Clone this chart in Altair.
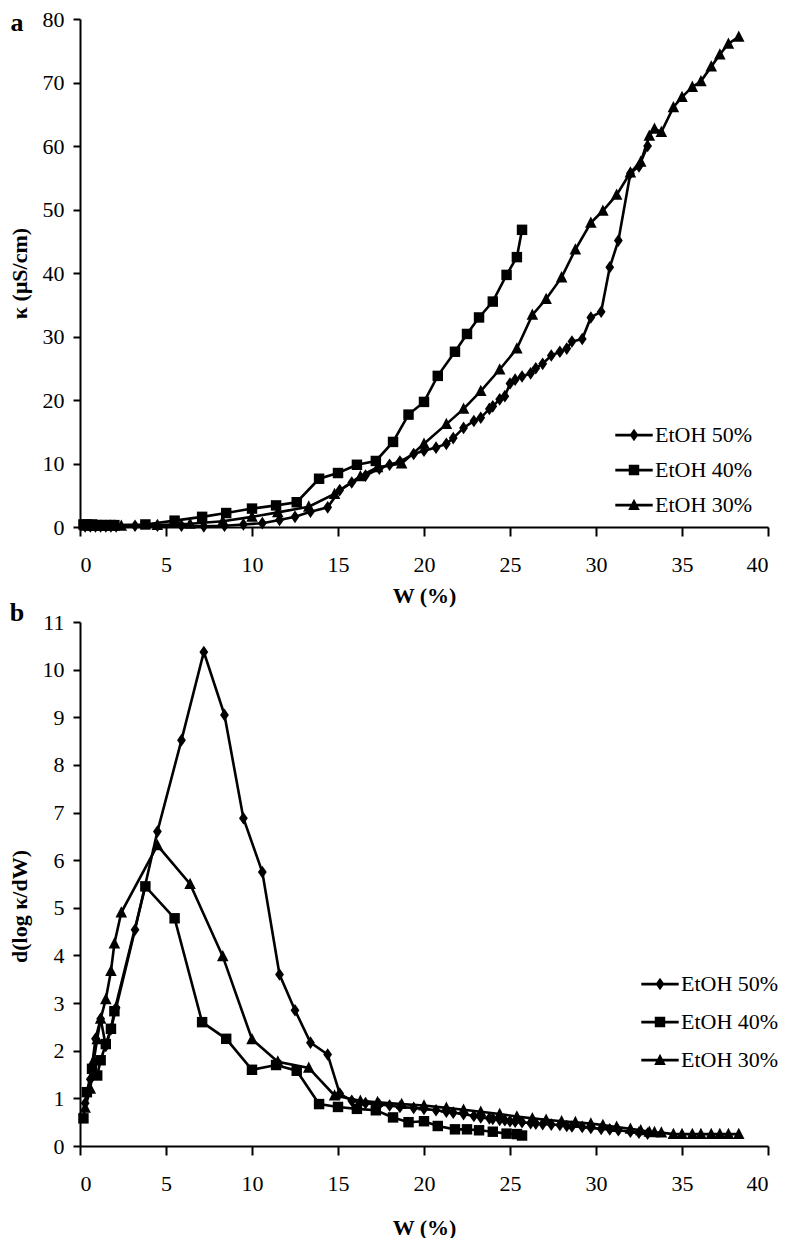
import altair as alt
import pandas as pd

SERIES = ["EtOH 50%", "EtOH 40%", "EtOH 30%"]

# ---- EtOH 50 % (diamonds) ----
W50 = [0.3, 0.6, 0.9, 1.2, 1.5, 1.8, 2.1, 3.2, 4.5, 5.9, 7.2, 8.4, 9.5, 10.6, 11.6, 12.5, 13.4, 14.4,
       15.1, 15.8, 16.6, 17.4, 18.0, 18.6, 19.4, 20.0, 20.7, 21.3, 21.7, 22.3, 22.9, 23.3, 23.8, 24.0,
       24.4, 24.7, 25.0, 25.3, 25.7, 26.2, 26.5, 26.9, 27.4, 27.9, 28.3, 28.6, 29.2, 29.7, 30.3, 30.8,
       31.3, 32.0, 32.5, 33.0]
K50_a = [0.1, 0.1, 0.1, 0.1, 0.1, 0.1, 0.1, 0.2, 0.2, 0.2, 0.1, 0.2, 0.4, 0.6, 1.1, 1.6, 2.4, 3.1,
         5.8, 7.0, 8.1, 9.2, 9.8, 10.3, 11.5, 12.0, 12.5, 13.1, 14.0, 15.6, 16.7, 17.2, 18.6, 19.0,
         20.1, 20.6, 22.6, 23.2, 23.7, 24.2, 25.0, 25.7, 27.0, 27.6, 28.1, 29.2, 29.6, 33.0, 33.9, 40.9,
         45.1, 55.7, 56.8, 60.0]
D50_b = [0.9, 1.4, 2.25, 2.67, 2.1, 2.45, 2.9, 4.54, 6.6, 8.52, 10.37, 9.05, 6.88, 5.75, 3.6, 2.85, 2.17, 1.92,
         1.1, 0.95, 0.9, 0.87, 0.85, 0.82, 0.8, 0.78, 0.75, 0.72, 0.7, 0.67, 0.63, 0.6, 0.58, 0.57,
         0.55, 0.54, 0.52, 0.51, 0.5, 0.48, 0.47, 0.46, 0.45, 0.44, 0.42, 0.41, 0.4, 0.38, 0.36, 0.35,
         0.33, 0.3, 0.28, 0.26]

# ---- EtOH 40 % (squares) ----
W40 = [0.2, 0.4, 0.7, 1.0, 1.2, 1.5, 1.8, 2.0, 3.8, 5.5, 7.1, 8.5, 10.0, 11.4, 12.6, 13.9, 15.0, 16.1,
       17.2, 18.2, 19.1, 20.0, 20.8, 21.8, 22.5, 23.2, 24.0, 24.8, 25.4, 25.7]
K40_a = [0.4, 0.4, 0.4, 0.3, 0.3, 0.3, 0.3, 0.3, 0.4, 1.0, 1.6, 2.2, 2.9, 3.4, 3.9, 7.6, 8.5, 9.8,
         10.4, 13.4, 17.7, 19.7, 23.8, 27.6, 30.4, 33.0, 35.5, 39.7, 42.5, 46.8]
D40_b = [0.58, 1.13, 1.62, 1.48, 1.8, 2.14, 2.46, 2.83, 5.45, 4.78, 2.6, 2.25, 1.6, 1.7, 1.58, 0.88, 0.82, 0.78,
         0.75, 0.6, 0.5, 0.52, 0.42, 0.35, 0.35, 0.33, 0.3, 0.26, 0.25, 0.22]

# ---- EtOH 30 % (triangles) ----
W30 = [0.3, 0.6, 0.8, 1.0, 1.2, 1.5, 1.8, 2.0, 2.4, 4.5, 6.4, 8.3, 10.0, 11.5, 13.3, 14.8, 16.3, 17.3,
       18.7, 20.0, 21.3, 22.3, 23.3, 24.4, 25.4, 26.3, 27.1, 28.0, 28.8, 29.7, 30.4, 31.2, 32.0, 32.6,
       33.1, 33.4, 33.8, 34.5, 35.0, 35.6, 36.1, 36.7, 37.2, 37.7, 38.3]
K30_a = [0.2, 0.2, 0.2, 0.2, 0.2, 0.2, 0.2, 0.2, 0.2, 0.3, 0.5, 0.9, 1.6, 2.3, 3.2, 5.2, 8.0, 9.4,
         10.0, 13.1, 16.2, 18.6, 21.4, 24.8, 28.1, 33.4, 35.9, 39.3, 43.7, 47.9, 49.8, 52.3, 55.8, 57.5,
         61.6, 62.7, 62.2, 66.1, 67.7, 69.3, 70.2, 72.5, 74.4, 76.1, 77.2]
D30_b = [0.8, 1.2, 1.8, 2.24, 2.67, 3.08, 3.67, 4.25, 4.9, 6.31, 5.5, 3.98, 2.24, 1.77, 1.64, 1.06, 0.95, 0.92,
         0.88, 0.85, 0.8, 0.76, 0.72, 0.67, 0.62, 0.58, 0.55, 0.52, 0.5, 0.47, 0.44, 0.4, 0.36, 0.33,
         0.3, 0.29, 0.28, 0.25, 0.25, 0.25, 0.25, 0.25, 0.25, 0.25, 0.25]

X_TICKS = [0, 5, 10, 15, 20, 25, 30, 35, 40]
YA_TICKS = [0, 10, 20, 30, 40, 50, 60, 70, 80]
YB_TICKS = [0, 1, 2, 3, 4, 5, 6, 7, 8, 9, 10, 11]


def frame(pairs):
    rows = []
    for name, W, V in pairs:
        for i, (w, v) in enumerate(zip(W, V)):
            rows.append({"series": name, "W": w, "v": v, "order": i})
    return pd.DataFrame(rows)


df_a = frame([(SERIES[0], W50, K50_a), (SERIES[1], W40, K40_a), (SERIES[2], W30, K30_a)])
df_b = frame([(SERIES[0], W50, D50_b), (SERIES[1], W40, D40_b), (SERIES[2], W30, D30_b)])

FONT = "Liberation Serif"
MARK_PATHS = [
    "M0,-1.15L0.8,0L0,1.15L-0.8,0Z",
    "M-0.95,-0.95H0.95V0.95H-0.95Z",
    "M0,-1.15L1.05,0.9H-1.05Z",
]
LEG_PATHS = ["M-3.4,-0.25H3.4V0.25H-3.4Z" + p for p in MARK_PATHS]


def panel(df, ytitle, ydom, yticks, letter, lx, ly, rowpad, height, xtitlepad, letter_y, ytitle_y):
    x = alt.X("W:Q", scale=alt.Scale(domain=[0, 40], nice=False, zero=False),
              axis=alt.Axis(values=X_TICKS, title="W (%)", titlePadding=xtitlepad, tickSize=9,
                            labelPadding=18))
    y = alt.Y("v:Q", scale=alt.Scale(domain=ydom, nice=False),
              axis=alt.Axis(values=yticks, title=ytitle, tickSize=7, titleY=ytitle_y))
    base = alt.Chart(df)
    lines = base.mark_line(color="black", strokeWidth=2.6).encode(
        x=x, y=y, detail="series:N", order="order:Q")
    pts = base.mark_point(filled=True, color="black", opacity=1, size=121, strokeWidth=0.5).encode(
        x=x, y=y,
        shape=alt.Shape("series:N", scale=alt.Scale(domain=SERIES, range=MARK_PATHS), legend=None))
    leg = base.transform_filter("datum.W < -1000").mark_point(
        filled=True, color="black", opacity=1, size=121, strokeWidth=0.5).encode(
        x=x, y=y,
        shape=alt.Shape("series:N", scale=alt.Scale(domain=SERIES, range=LEG_PATHS),
                        legend=alt.Legend(orient="none", legendX=lx, legendY=ly, title=None,
                                          padding=0, labelFont=FONT, labelFontSize=22,
                                          labelColor="black", symbolSize=121,
                                          symbolStrokeWidth=0.5, symbolFillColor="black",
                                          symbolStrokeColor="black", labelOffset=10,
                                          rowPadding=rowpad)))
    lab = alt.Chart(pd.DataFrame({"t": [letter]})).mark_text(
        font=FONT, fontSize=26, fontWeight="bold", color="black", align="center", baseline="middle"
    ).encode(text="t:N", x=alt.value(-63), y=alt.value(letter_y))
    return alt.layer(lines, pts, leg, lab).resolve_scale(shape="independent").properties(
        width=688, height=height)


pa = panel(df_a, "κ (μS/cm)", [0, 80], YA_TICKS, "a", 543, 405, 13, 508, 10, 4, 254)
pb = panel(df_b, "d(log κ/dW)", [0, 11], YB_TICKS, "b", 569, 351, 16, 524, 23, -9, 284)

chart = alt.vconcat(pa, pb, spacing=95, bounds="flush").properties(
    padding={"left": 0, "top": 0, "right": 0, "bottom": 0}
).configure_view(stroke=None).configure_axis(
    grid=False, domainColor="black", domainWidth=2, tickColor="black", tickWidth=2,
    labelFont=FONT, labelFontSize=22, labelColor="black", labelPadding=9,
    titleFont=FONT, titleFontSize=22, titleFontWeight="bold", titleColor="black"
).configure_axisY(titlePadding=11)

chart.save("out.html", embed_options={"renderer": "svg", "actions": False})
